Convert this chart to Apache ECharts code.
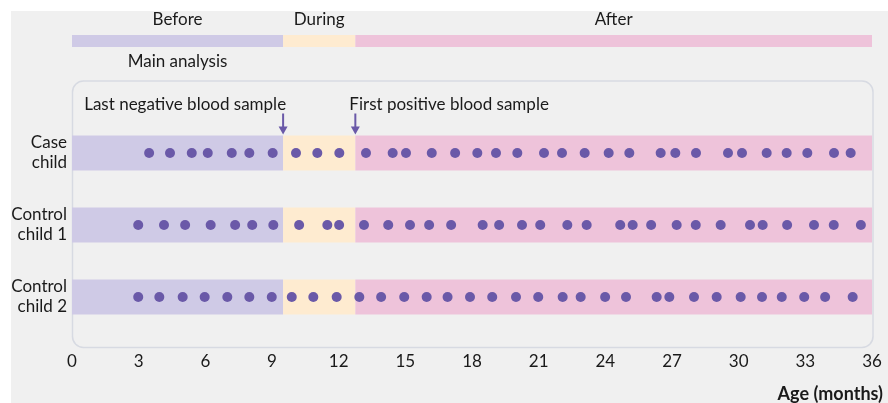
<!DOCTYPE html>
<html><head><meta charset="utf-8">
<script src="https://cdn.jsdelivr.net/npm/echarts@6/dist/echarts.min.js"></script>
<style>
html,body{margin:0;padding:0;background:#fff}
#c{width:888px;height:403px;background:linear-gradient(#f0f0f0,#f0f0f0) no-repeat 11px 11px / 877px 392px, #fff}
</style>
</head><body><div id="c"></div>
<script>
// ---- data ----
const xTicks = [0, 3, 6, 9, 12, 15, 18, 21, 24, 27, 30, 33, 36];
const rowNames = ['Case\nchild', 'Control\nchild 1', 'Control\nchild 2'];
const phaseNames = ['Before', 'During', 'After'];
const phaseStart = [0, 9.5, 12.75];
const phaseEnd = [9.5, 12.75, 36];
const mainAnalysisLabel = 'Main analysis';
const eventAges = [9.5, 12.75];
const eventLabels = ['Last negative blood sample', 'First positive blood sample'];
const caseAges = [3.47, 4.41, 5.39, 6.11, 7.19, 7.98, 9.03, 10.08, 11.04, 12.03, 13.23, 14.43, 15.03, 16.19,
  17.24, 18.24, 19.08, 20.04, 21.24, 22.05, 23.07, 24.15, 25.08, 26.49, 27.15, 28.08, 29.52, 30.15,
  31.26, 32.16, 33.09, 34.29, 35.04];
const control1Ages = [2.98, 4.14, 5.09, 6.24, 7.34, 8.11, 9.06, 10.22, 11.49, 12.02, 13.14, 14.23, 15.21,
  16.07, 17.06, 18.48, 19.22, 20.25, 21.07, 22.29, 23.16, 24.67, 25.23, 26.06, 27.21, 28.07, 29.19,
  30.51, 31.08, 32.18, 33.39, 34.28, 35.5];
const control2Ages = [2.98, 3.93, 4.98, 5.97, 6.99, 7.98, 8.99, 9.89, 10.86, 11.91, 12.93, 13.91, 14.95,
  15.96, 16.9, 17.91, 18.91, 19.98, 20.98, 22.08, 22.89, 23.99, 24.93, 26.31, 26.88, 27.99, 29.01,
  30.09, 31.05, 31.94, 32.95, 33.89, 35.13];

// ---- styles ----
const FONT = 'Lato';
const FS = 17;
const phaseColors = ['#cfcae6', '#feebd0', '#eec3da'];
const dotColor = '#6a59a8';
const boxColor = '#d7dae2';
const textColor = '#1a1a1a';

const chart = echarts.init(document.getElementById('c'));

const bandData = [];
[0, 1, 2].forEach(r => phaseNames.forEach((p, i) => bandData.push([phaseStart[i], phaseEnd[i], r, i])));
const topData = phaseNames.map((p, i) => [phaseStart[i], phaseEnd[i], i]);
const eventData = eventAges.map((a, i) => [a, 0, i]);

const GRID_TOP = 81, GRID_H = 266.4;

chart.setOption({
  animation: false,
  textStyle: { fontFamily: FONT },
  grid: [
    { left: 72, top: GRID_TOP, width: 800, height: GRID_H },
    { left: 72, top: 35, width: 800, height: 12 }
  ],
  xAxis: [
    {
      gridIndex: 0, type: 'value', min: 0, max: 36, interval: 3,
      axisLine: { show: false },
      splitLine: { show: false },
      axisTick: { show: true, inside: true, length: 6, customValues: xTicks.slice(1, -1),
        lineStyle: { color: boxColor, width: 1.5 } },
      axisLabel: { customValues: xTicks, fontSize: FS, color: textColor, margin: 6, fontFamily: FONT }
    },
    { gridIndex: 1, type: 'value', min: 0, max: 36, show: false }
  ],
  yAxis: [
    {
      gridIndex: 0, type: 'value', inverse: true, min: -1, max: 2.7, interval: 1,
      axisLine: { show: false }, axisTick: { show: false }, splitLine: { show: false },
      axisLabel: {
        formatter: v => (rowNames[v] !== undefined ? rowNames[v] : ''),
        align: 'right', margin: 5, fontSize: FS, lineHeight: 20, color: textColor, fontFamily: FONT,
        showMinLabel: true, showMaxLabel: false
      }
    },
    { gridIndex: 1, type: 'value', min: 0, max: 1, show: false }
  ],
  graphic: [
    { type: 'rect', z: 0, silent: true,
      shape: { x: 72.5, y: GRID_TOP, width: 800.5, height: GRID_H, r: 11 },
      style: { fill: null, stroke: boxColor, lineWidth: 1.5 } },
    { type: 'text', z: 10, right: 5, top: 385,
      style: { text: 'Age (months)', font: 'bold 18px ' + FONT, fill: textColor } }
  ],
  series: [
    {
      type: 'custom', xAxisIndex: 0, yAxisIndex: 0, z: 1, data: bandData, clip: false,
      encode: { x: [0, 1], y: 2 },
      renderItem: (params, api) => {
        const s = api.coord([api.value(0), api.value(2)]);
        const e = api.coord([api.value(1), api.value(2)]);
        const h = 35;
        return { type: 'rect', shape: { x: s[0], y: s[1] - h / 2, width: e[0] - s[0], height: h },
          style: { fill: phaseColors[api.value(3)] } };
      }
    },
    {
      type: 'custom', xAxisIndex: 1, yAxisIndex: 1, z: 1, data: topData, clip: false,
      encode: { x: [0, 1] },
      renderItem: (params, api) => {
        const i = api.value(2);
        const a = api.coord([api.value(0), 1]);
        const b = api.coord([api.value(1), 0]);
        const cx = (a[0] + b[0]) / 2;
        const children = [
          { type: 'rect', shape: { x: a[0], y: a[1], width: b[0] - a[0], height: b[1] - a[1] },
            style: { fill: phaseColors[i] } },
          { type: 'text', x: cx, y: a[1] - 15,
            style: { text: phaseNames[i], align: 'center', verticalAlign: 'middle', font: FS + 'px ' + FONT, fill: textColor } }
        ];
        if (i === 0) children.push({ type: 'text', x: cx, y: b[1] + 15,
          style: { text: mainAnalysisLabel, align: 'center', verticalAlign: 'middle', font: FS + 'px ' + FONT, fill: textColor } });
        return { type: 'group', children };
      }
    },
    {
      type: 'custom', xAxisIndex: 0, yAxisIndex: 0, z: 3, data: eventData, clip: false,
      encode: { x: 0, y: 1 },
      renderItem: (params, api) => {
        const i = api.value(2);
        const p = api.coord([api.value(0), api.value(1)]);
        const x = p[0], tip = p[1] - 18.5;
        return { type: 'group', children: [
          { type: 'line', shape: { x1: x, y1: tip - 21, x2: x, y2: tip - 6 }, style: { stroke: dotColor, lineWidth: 2 } },
          { type: 'polygon', shape: { points: [[x - 4.5, tip - 8], [x + 4.5, tip - 8], [x, tip]] }, style: { fill: dotColor } },
          { type: 'text', x: i === 0 ? x + 3 : x - 6, y: tip - 30,
            style: { text: eventLabels[i], align: i === 0 ? 'right' : 'left', verticalAlign: 'middle',
              font: FS + 'px ' + FONT, fill: textColor } }
        ] };
      }
    },
    { type: 'scatter', z: 4, symbolSize: 10, itemStyle: { color: dotColor, opacity: 1 }, data: caseAges.map(a => [a, 0]) },
    { type: 'scatter', z: 4, symbolSize: 10, itemStyle: { color: dotColor, opacity: 1 }, data: control1Ages.map(a => [a, 1]) },
    { type: 'scatter', z: 4, symbolSize: 10, itemStyle: { color: dotColor, opacity: 1 }, data: control2Ages.map(a => [a, 2]) }
  ]
});
</script>
</body></html>
